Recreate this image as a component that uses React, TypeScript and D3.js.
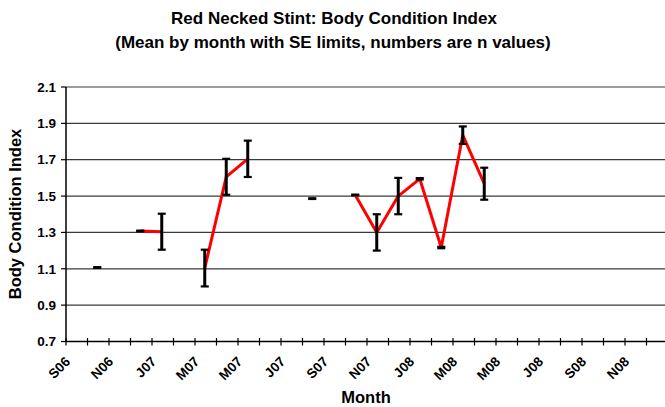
import React from 'react';
import * as d3 from 'd3';

// one category per month, Sep 2006 .. Dec 2008
const months = [
  'Sep06', 'Oct06', 'Nov06', 'Dec06', 'Jan07', 'Feb07', 'Mar07', 'Apr07', 'May07', 'Jun07',
  'Jul07', 'Aug07', 'Sep07', 'Oct07', 'Nov07', 'Dec07', 'Jan08', 'Feb08', 'Mar08', 'Apr08',
  'May08', 'Jun08', 'Jul08', 'Aug08', 'Sep08', 'Oct08', 'Nov08', 'Dec08',
];
const tickLabels = ['S06', 'N06', 'J07', 'M07', 'M07', 'J07', 'S07', 'N07', 'J08', 'M08', 'M08', 'J08', 'S08', 'N08'];

// mean body condition index (null = no sample that month)
const means = [
  null, 1.107, null, 1.308, 1.304, null, 1.104, 1.606, 1.705, null,
  null, 1.486, null, 1.506, 1.30, 1.50, 1.595, 1.217, 1.835, 1.568,
  null, null, null, null, null, null, null, null,
];
// standard errors
const ses = [
  null, 0.002, null, 0.002, 0.099, null, 0.101, 0.099, 0.1, null,
  null, 0.002, null, 0.002, 0.1, 0.1, 0.004, 0.004, 0.048, 0.088,
  null, null, null, null, null, null, null, null,
];
const yTicks = [0.7, 0.9, 1.1, 1.3, 1.5, 1.7, 1.9, 2.1];

const W = 665;
const H = 407;
const left = 66;
const top = 87;
const bottom = 341.5;
const bandW = 21.5;
const font = 'Arial, "Liberation Sans", sans-serif';

export default function App() {
  const x = d3.scaleBand<string>().domain(months).range([left, left + bandW * months.length]).padding(0);
  const y = d3.scaleLinear().domain([0.7, 2.1]).range([bottom, top]);
  // points sit a little left of the band centre in the original
  const cx = (i: number) => (x(months[i]) as number) + x.bandwidth() / 2 - 1;

  const pts = months.map((m, i) => ({ i, v: means[i], se: ses[i] }));
  const line = d3.line<{ i: number; v: number | null }>()
    .defined(d => d.v != null)
    .x(d => cx(d.i))
    .y(d => y(d.v as number));

  const right = left + bandW * months.length;
  const boundaries = d3.range(months.length + 1).map(k => left + k * x.step());

  return (
    <svg width={W} height={H} style={{ position: 'absolute', left: 0, top: 0, background: '#fff' }} fontFamily={font}>
      <text x={334} y={24} textAnchor="middle" fontSize={17} fontWeight="bold">Red Necked Stint: Body Condition Index</text>
      <text x={333} y={48} textAnchor="middle" fontSize={17} fontWeight="bold">(Mean by month with SE limits, numbers are n values)</text>

      {yTicks.slice(1).map(t => (
        <line key={t} x1={left} x2={right} y1={y(t)} y2={y(t)} stroke="#3a3a3a" strokeWidth={1.2} />
      ))}

      {yTicks.map(t => (
        <g key={'yt' + t}>
          <line x1={left - 5} x2={left} y1={y(t)} y2={y(t)} stroke="#000" strokeWidth={1.2} />
          <text x={56} y={y(t)} dy="0.35em" textAnchor="end" fontSize={13.5} fontWeight="bold">{t.toFixed(1)}</text>
        </g>
      ))}

      <line x1={left} x2={left} y1={top} y2={bottom} stroke="#000" strokeWidth={1.5} />
      <line x1={left} x2={right} y1={bottom} y2={bottom} stroke="#000" strokeWidth={1.5} />
      {boundaries.map((bx, k) => (
        <line key={'xt' + k} x1={bx} x2={bx} y1={bottom - 3.5} y2={bottom + 4} stroke="#000" strokeWidth={1.2} />
      ))}
      {tickLabels.map((lab, j) => (
        <text key={'xl' + j} transform={`translate(${boundaries[j * 2] + 5},${bottom + 21}) rotate(-45)`}
          textAnchor="end" fontSize={13.5} fontWeight="bold">{lab}</text>
      ))}

      <path d={line(pts) || ''} fill="none" stroke="#ff0000" strokeWidth={3} strokeLinejoin="round" />

      {pts.filter(p => p.v != null).map(p => {
        const px = cx(p.i);
        const hi = y((p.v as number) + (p.se as number));
        const lo = y((p.v as number) - (p.se as number));
        return (
          <g key={'eb' + p.i} stroke="#000">
            <line x1={px} x2={px} y1={hi} y2={lo} strokeWidth={3} />
            <line x1={px - 4} x2={px + 4} y1={hi} y2={hi} strokeWidth={2.2} />
            <line x1={px - 4} x2={px + 4} y1={lo} y2={lo} strokeWidth={2.2} />
          </g>
        );
      })}

      <text transform={`translate(20.5,214) rotate(-90)`} textAnchor="middle" fontSize={16.5} fontWeight="bold">Body Condition Index</text>
      <text x={366} y={403} textAnchor="middle" fontSize={16.5} fontWeight="bold">Month</text>
    </svg>
  );
}
